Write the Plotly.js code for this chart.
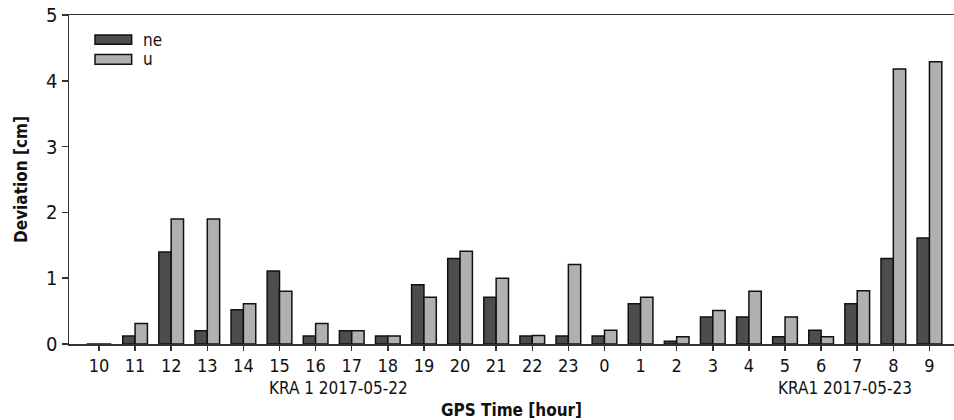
<!DOCTYPE html>
<html>
<head>
<meta charset="utf-8">
<script src="https://cdn.plot.ly/plotly-3.0.1.min.js"></script>
<style>html,body{margin:0;padding:0;background:#fff;}#chart{width:954px;height:420px;}</style>
</head>
<body>
<div id="chart"></div>
<script>
const hours = ["10","11","12","13","14","15","16","17","18","19","20","21","22","23","0","1","2","3","4","5","6","7","8","9"];
const neValues = [0, 0.12, 1.40, 0.20, 0.52, 1.11, 0.12, 0.20, 0.12, 0.90, 1.30, 0.71, 0.12, 0.12, 0.12, 0.61, 0.04, 0.41, 0.41, 0.11, 0.21, 0.61, 1.30, 1.61];
const uValues = [0, 0.31, 1.90, 1.90, 0.61, 0.80, 0.31, 0.20, 0.12, 0.71, 1.41, 1.00, 0.13, 1.21, 0.21, 0.71, 0.11, 0.51, 0.80, 0.41, 0.11, 0.81, 4.18, 4.29];
const seriesNames = ["ne", "u"];
const dayLabels = ["KRA 1 2017-05-22", "KRA1 2017-05-23"];

const FONT = "'Liberation Sans Narrow', 'Arial Narrow', 'DejaVu Sans Condensed', sans-serif";
const neColor = "#4d4d4d", uColor = "#b0b0b0";

const traces = [
  {type: "bar", x: hours, y: neValues, name: seriesNames[0],
   marker: {color: neColor, line: {color: "#111", width: 1.5}}},
  {type: "bar", x: hours, y: uValues, name: seriesNames[1],
   marker: {color: uColor, line: {color: "#111", width: 1.5}}}
];

const layout = {
  width: 954, height: 420,
  margin: {l: 69, r: 0, t: 15, b: 76, pad: 0},
  paper_bgcolor: "#fff", plot_bgcolor: "#fff",
  font: {family: FONT, color: "#111", size: 18},
  barmode: "group", bargap: 0.316, bargroupgap: 0,
  showlegend: false,
  xaxis: {
    type: "category", range: [-0.83, 23.68],
    showline: true, linecolor: "#333", linewidth: 1.5, mirror: true,
    ticks: "outside", ticklen: 5, tickwidth: 1.5, tickcolor: "#333",
    showgrid: false, zeroline: false,
    tickfont: {family: FONT, size: 18, color: "#111"},
    title: {text: "<b>GPS Time [hour]</b>", font: {family: FONT, size: 17, color: "#111"}, standoff: 30}
  },
  yaxis: {
    range: [0, 5], tickvals: [0,1,2,3,4,5],
    showline: true, linecolor: "#333", linewidth: 1.5,
    ticks: "outside", ticklen: 6, tickwidth: 1.5, tickcolor: "#333",
    showgrid: false, zeroline: false,
    tickfont: {family: FONT, size: 20, color: "#111"},
    title: {text: "<b>Deviation [cm]</b>", font: {family: FONT, size: 17, color: "#111"}, standoff: 14}
  },
  shapes: [
    {type: "rect", xref: "paper", yref: "paper", x0: 0.0294, x1: 0.0708, y0: 0.911, y1: 0.939,
     fillcolor: neColor, line: {color: "#111", width: 1.5}},
    {type: "rect", xref: "paper", yref: "paper", x0: 0.0294, x1: 0.0708, y0: 0.850, y1: 0.880,
     fillcolor: uColor, line: {color: "#111", width: 1.5}}
  ],
  annotations: [
    {xref: "paper", yref: "paper", x: 0.081, y: 0.925, xanchor: "left", yanchor: "middle",
     text: seriesNames[0], showarrow: false, font: {family: FONT, size: 17, color: "#111"}},
    {xref: "paper", yref: "paper", x: 0.081, y: 0.865, xanchor: "left", yanchor: "middle",
     text: seriesNames[1], showarrow: false, font: {family: FONT, size: 17, color: "#111"}},
    {xref: "paper", yref: "paper", x: 0.305, y: -0.135, xanchor: "center", yanchor: "middle",
     text: dayLabels[0], showarrow: false, font: {family: FONT, size: 17, color: "#111"}},
    {xref: "paper", yref: "paper", x: 0.877, y: -0.135, xanchor: "center", yanchor: "middle",
     text: dayLabels[1], showarrow: false, font: {family: FONT, size: 17, color: "#111"}}
  ]
};

Plotly.newPlot("chart", traces, layout, {displayModeBar: false, staticPlot: true});
</script>
</body>
</html>
